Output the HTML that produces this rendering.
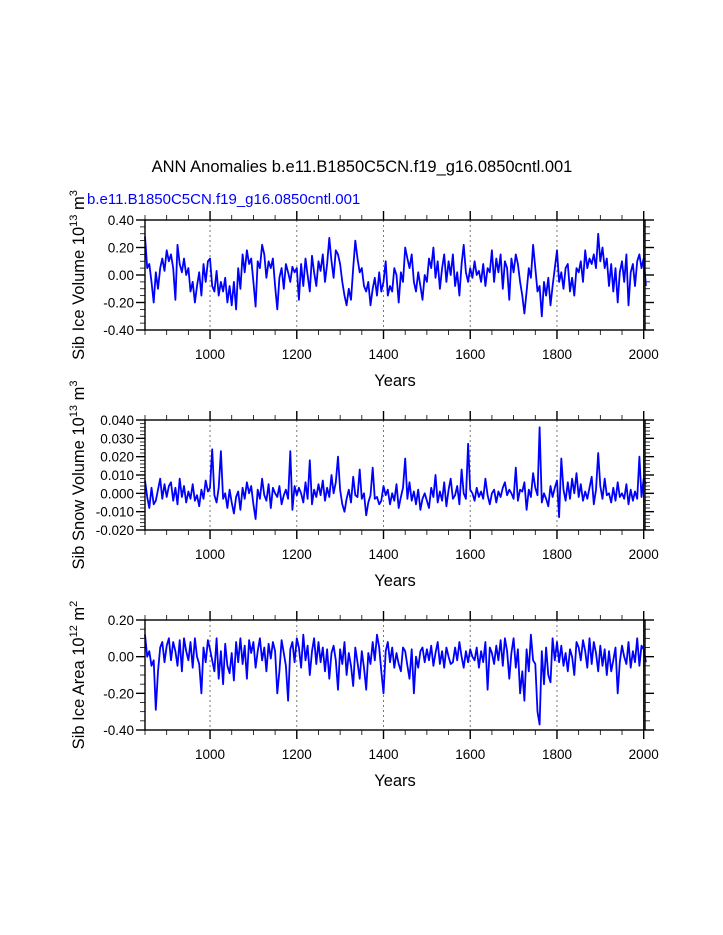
<!DOCTYPE html>
<html><head><meta charset="utf-8"><style>
body{margin:0;background:#fff;}
svg{display:block;font-family:"Liberation Sans",sans-serif;}
</style></head><body>
<svg id="chart" width="723" height="935" viewBox="0 0 723 935" xmlns="http://www.w3.org/2000/svg">
<text x="362" y="172" font-size="16.5" text-anchor="middle">ANN Anomalies b.e11.B1850C5CN.f19_g16.0850cntl.001</text>
<text x="87" y="204" font-size="15" fill="#0000ff">b.e11.B1850C5CN.f19_g16.0850cntl.001</text>
</svg>
<script>
const startYear = 850;
const stepYears = 5;
const xTicks = [1000,1200,1400,1600,1800,2000];
const iceVolume = [0.28,0.05,0.08,-0.05,-0.20,0.02,-0.10,0.05,0.12,0.03,
0.18,0.10,0.15,0.05,-0.18,0.22,0.08,0.02,0.12,0.00,
0.05,-0.12,-0.05,-0.20,-0.08,0.02,-0.15,0.08,-0.05,0.10,
0.12,-0.08,-0.12,0.03,-0.15,-0.05,-0.12,-0.02,-0.20,-0.08,
-0.22,-0.05,-0.25,0.05,-0.10,0.15,0.02,0.18,0.08,0.12,
-0.05,-0.23,0.10,0.05,0.22,0.15,-0.02,0.10,0.05,0.12,
-0.08,-0.25,-0.02,0.05,-0.10,0.08,0.02,-0.05,0.06,0.02,
0.05,-0.18,0.08,-0.08,0.12,0.00,-0.12,0.14,0.02,-0.08,
0.10,0.03,0.15,-0.05,0.08,0.27,0.10,-0.02,0.18,0.15,
0.08,-0.05,-0.15,-0.22,-0.10,-0.18,0.05,0.25,0.12,0.02,
0.05,-0.08,-0.12,-0.05,-0.22,-0.10,-0.02,-0.15,0.02,-0.12,
-0.05,0.10,-0.15,-0.08,-0.12,0.05,0.00,-0.20,0.02,-0.05,
0.20,0.12,0.05,0.15,-0.05,-0.12,0.02,-0.08,-0.18,0.00,
-0.05,0.12,0.05,0.20,-0.02,0.10,-0.10,0.05,0.15,-0.05,
0.10,0.00,0.15,-0.08,0.02,-0.15,0.08,0.22,0.02,-0.05,
0.05,-0.02,0.10,0.00,0.03,-0.05,0.08,-0.08,0.05,0.02,
0.18,-0.05,0.12,0.02,0.15,-0.10,0.10,0.05,-0.18,0.12,
0.02,0.15,0.08,-0.05,-0.15,-0.28,-0.12,0.05,-0.02,0.22,
0.05,-0.12,-0.08,-0.30,-0.05,-0.15,-0.02,-0.22,-0.08,0.05,
0.18,-0.05,0.02,-0.10,0.05,0.08,-0.12,-0.02,-0.15,0.05,
0.02,0.10,-0.05,0.18,0.05,0.12,0.08,0.15,0.05,0.30,
0.10,0.20,0.05,0.12,-0.08,0.08,-0.12,0.05,-0.20,0.02,
0.10,-0.05,0.15,-0.22,0.02,0.08,-0.08,0.10,0.15,0.05,
0.12,-0.08];
const snowVolumeMilli = [7,-2,-8,3,-6,-4,2,8,-3,5,
-2,4,6,-4,3,-6,8,-2,4,-5,
1,-3,5,-4,-1,-7,2,-3,7,1,
3,24,-1,-5,3,23,-3,0,-8,2,
-5,-11,-2,1,-9,3,-3,6,0,4,
-6,-14,2,-3,8,-1,-4,5,-8,3,
0,-2,4,-6,-1,2,-3,23,-9,4,
-1,3,0,-5,6,-3,18,-6,2,-2,
5,-1,7,-4,3,-2,10,0,6,20,
2,-6,-10,-3,2,-5,9,-1,-2,13,
-3,0,-12,-5,-1,14,-3,-2,-6,-4,
4,-1,2,-6,0,-4,5,-8,-2,3,
19,-3,6,-4,1,-6,2,-9,-3,0,
-4,-8,3,-2,10,-5,1,-4,6,-7,
2,8,-3,-1,4,-6,13,0,-3,27,
2,0,-4,3,-2,1,-3,8,-1,-6,
0,2,-5,1,-2,3,6,-1,2,0,
-3,14,-4,2,1,6,-9,2,-2,11,
3,-1,36,-5,0,-3,-7,4,-2,3,
7,-13,19,2,-4,6,-3,8,0,11,
-2,5,-4,1,-3,3,9,-6,2,22,
4,-3,8,-1,0,-5,3,-4,6,-2,
0,-3,5,-6,2,-4,1,-3,20,-2,
8,5];
const iceAreaCenti = [12,0,3,-5,-2,-29,-8,5,8,-3,
6,10,-2,8,3,-5,9,-8,10,3,
-2,8,-6,10,0,-4,-20,5,-3,9,
4,-2,-8,10,-12,3,-15,7,-5,-9,
2,-13,8,-3,10,-4,6,-12,9,2,
8,-6,3,10,-2,5,-8,7,-1,8,
3,-20,-8,9,2,-5,-24,4,8,-3,
10,5,-6,12,-2,6,-10,3,10,-4,
8,-3,5,-8,4,-12,2,6,-2,-18,
4,-4,8,-10,2,-5,-16,5,-3,-12,
3,-6,-18,2,-4,8,-2,12,5,-8,
-20,3,8,-3,5,-6,2,-4,-8,5,
3,-5,-12,4,-20,0,-6,3,5,-3,
4,-2,6,-5,2,8,-4,3,-6,5,
0,-4,-3,5,-2,8,0,-6,3,-3,
4,0,-2,5,-6,3,-3,8,-18,5,
2,-4,6,-2,9,-5,10,3,-12,2,
10,-6,4,-20,-8,-24,4,-8,12,-2,
-4,-30,-37,3,-15,5,-10,-14,10,-2,
8,-3,6,-5,2,-8,4,0,-10,8,
5,-2,9,3,-6,10,-4,8,2,-8,
6,-5,4,-10,3,-8,-2,5,-20,-3,
6,0,-4,8,-6,3,-3,10,-5,6,
4,-3];
const iceTicks = [-0.40,-0.20,0.00,0.20,0.40];
const snowTicks = [-0.020,-0.010,0.000,0.010,0.020,0.030,0.040];
const areaTicks = [-0.40,-0.20,0.00,0.20];

const NS="http://www.w3.org/2000/svg";
const svg=document.getElementById('chart');
const X0=145,X1=645,Y0=850,Y1=2003;
function xs(y){return X0+(y-Y0)/(Y1-Y0)*(X1-X0);}
function mk(tag,attrs,parent){const e=document.createElementNS(NS,tag);for(const k in attrs)e.setAttribute(k,attrs[k]);(parent||svg).appendChild(e);return e;}

function panel(top,vals,scale,ymin,ymax,ticks,dec,minorStep,name,labelParts){
  const H=110,bot=top+H;
  const ys=v=>bot-(v-ymin)/(ymax-ymin)*H;
  const g=mk('g',{});
  
  
  xTicks.forEach(t=>{const l=mk('line',{x1:xs(t),x2:xs(t),y1:top,y2:bot,stroke:'#777','stroke-dasharray':'2,3','stroke-width':1},g);
    
    });
  for(let t=850;t<=2000;t+=50){const maj=(t%200===0);const L=maj?9:5;
    mk('line',{x1:xs(t),x2:xs(t),y1:bot,y2:bot+L,stroke:'#000','stroke-width':maj?1.4:0.8},g);
    mk('line',{x1:xs(t),x2:xs(t),y1:top,y2:top-L,stroke:'#000','stroke-width':maj?1.4:0.8},g);}
  xTicks.forEach(t=>{const tx=mk('text',{x:xs(t),y:bot+29,'font-size':13.5,'text-anchor':'middle'},g);tx.textContent=t;
    
    });
  for(let v=ymin;v<=ymax+1e-9;v+=minorStep){const isMaj=ticks.some(t=>Math.abs(t-v)<minorStep/10);const L=isMaj?9:5;
    mk('line',{x1:X0,x2:X0-L,y1:ys(v),y2:ys(v),stroke:'#000','stroke-width':isMaj?1.4:0.8},g);
    mk('line',{x1:X1,x2:X1+L,y1:ys(v),y2:ys(v),stroke:'#000','stroke-width':isMaj?1.4:0.8},g);}
  ticks.forEach(t=>{const tx=mk('text',{x:X0-11,y:ys(t)+5,'font-size':13.5,'text-anchor':'end'},g);tx.textContent=t.toFixed(dec);
    
    });
  const pts=vals.map((v,i)=>xs(startYear+i*stepYears).toFixed(1)+','+ys(v*scale).toFixed(1)).join(' ');
  const pl=mk('polyline',{points:pts,fill:'none',stroke:'#0000ff','stroke-width':1.8,'stroke-linejoin':'round'},g);
  
  
  mk('line',{x1:xs(2000),x2:xs(2000),y1:top,y2:bot,stroke:'#000','stroke-width':1.2},g);
  mk('rect',{x:X0,y:top,width:X1-X0,height:H,fill:'none',stroke:'#000','stroke-width':1.4},g);
  const xt=mk('text',{x:395,y:bot+56,'font-size':16.5,'text-anchor':'middle'},g);xt.textContent='Years';
  
  
  const yt=mk('text',{transform:'translate(84,'+(top+H/2)+') rotate(-90)','font-size':16.5,'text-anchor':'middle'},g);
  
  
  labelParts.forEach(p=>{const s=mk('tspan',p.sup?{'font-size':11,dy:-7}:(p.after?{dy:7}:{}),yt);s.textContent=p.t;});
}
panel(220,iceVolume,1,-0.4,0.4,iceTicks,2,0.05,'ice-volume',[{t:'Sib Ice Volume 10'},{t:'13',sup:1},{t:' m',after:1},{t:'3',sup:1}]);
panel(420,snowVolumeMilli,0.001,-0.02,0.04,snowTicks,3,0.002,'snow-volume',[{t:'Sib Snow Volume 10'},{t:'13',sup:1},{t:' m',after:1},{t:'3',sup:1}]);
panel(620,iceAreaCenti,0.01,-0.4,0.2,areaTicks,2,0.05,'ice-area',[{t:'Sib Ice Area 10'},{t:'12',sup:1},{t:' m',after:1},{t:'2',sup:1}]);
</script>
</body></html>
